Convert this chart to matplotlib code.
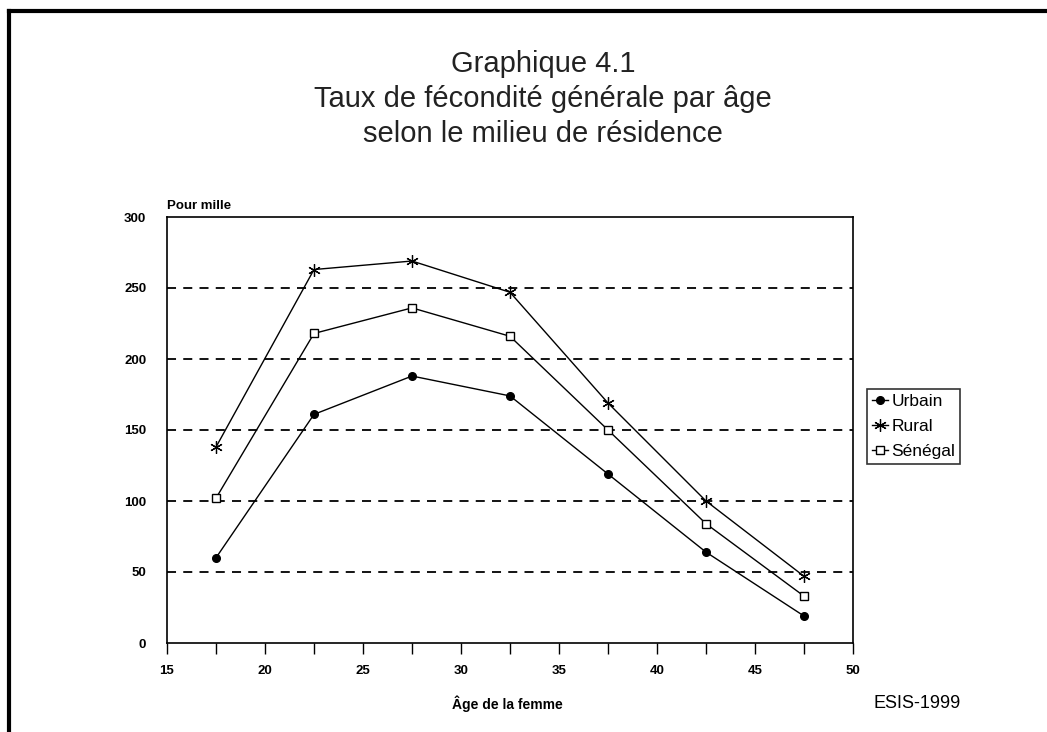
import matplotlib.pyplot as plt
from matplotlib.lines import Line2D
from matplotlib.ticker import MultipleLocator
import numpy as np

# groupes d'age (centres des classes quinquennales)
ages = [17.5, 22.5, 27.5, 32.5, 37.5, 42.5, 47.5]
urbain = [60, 161, 188, 174, 119, 64, 19]
rural = [138, 263, 269, 247, 169, 100, 47]
senegal = [102, 218, 236, 216, 150, 84, 33]

grid_levels = [50, 100, 150, 200, 250]
y_ticks = [0, 50, 100, 150, 200, 250, 300]
x_ticks = [15, 20, 25, 30, 35, 40, 45, 50]

plt.rcParams['font.family'] = ['Liberation Sans', 'DejaVu Sans']

fig = plt.figure(figsize=(10.47, 7.32), dpi=100)
ax = fig.add_axes([167 / 1047, 1 - 643 / 732, 686 / 1047, 426 / 732])

# cadre partiel autour de la figure (haut et gauche)
fig.add_artist(Line2D([8.5 / 1047, 8.5 / 1047], [0, 1 - 10.5 / 732], color='black', lw=3,
                      transform=fig.transFigure))
fig.add_artist(Line2D([8.5 / 1047, 1], [1 - 10.5 / 732, 1 - 10.5 / 732], color='black', lw=3,
                      transform=fig.transFigure))

for g in grid_levels:
    ax.axhline(g, color='black', lw=1.3, ls=(0, (5, 4)), zorder=1)

ax.plot(ages, urbain, color='black', lw=1, marker='o', markersize=5.5,
        markerfacecolor='black', label='Urbain', zorder=3)
ax.plot(ages, rural, color='black', lw=1, marker=(6, 2, 0), markersize=9,
        markeredgewidth=0.9, label='Rural', zorder=3)
ax.plot(ages, senegal, color='black', lw=1, marker='s', markersize=6,
        markerfacecolor='white', markeredgewidth=1, label='Sénégal', zorder=3)

ax.set_xlim(15, 50)
ax.set_ylim(0, 300)
ax.set_xticks(x_ticks)
ax.xaxis.set_minor_locator(MultipleLocator(2.5))
ax.set_yticks(y_ticks)
ax.tick_params(axis='x', which='both', direction='out', length=8, width=1, labelsize=9.5, pad=8)
ax.tick_params(axis='y', length=0, labelsize=9.5, pad=15)
for lab in ax.get_xticklabels() + ax.get_yticklabels():
    lab.set_fontweight('bold')
for s in ax.spines.values():
    s.set_linewidth(1.2)

ax.text(0, 1.012, 'Pour mille', transform=ax.transAxes, fontsize=9.5, fontweight='bold',
        ha='left', va='bottom')

fig.text(543 / 1047, 1 - 99 / 732,
         'Graphique 4.1\nTaux de fécondité générale par âge\nselon le milieu de résidence',
         ha='center', va='center', fontsize=21, linespacing=1.3, color='#222222')

fig.text(507 / 1047, 1 - 704 / 732, 'Âge de la femme', ha='center', va='center',
         fontsize=10, fontweight='bold')
fig.text(917 / 1047, 1 - 704 / 732, 'ESIS-1999', ha='center', va='center', fontsize=13)

leg = ax.legend(loc='upper left', bbox_to_anchor=(867 / 1047, 1 - 389 / 732),
                bbox_transform=fig.transFigure, frameon=True, fancybox=False,
                edgecolor='black', fontsize=12.5, handlelength=0.9, handletextpad=0.2,
                borderpad=0.3, labelspacing=0.55, borderaxespad=0)
leg.get_frame().set_linewidth(1.2)

fig.savefig('out.png', dpi=100)
